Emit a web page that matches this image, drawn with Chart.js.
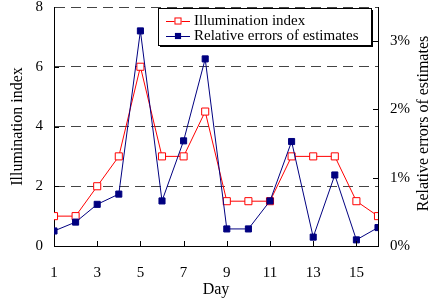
<!DOCTYPE html>
<html>
<head>
<meta charset="utf-8">
<script src="https://cdn.jsdelivr.net/npm/chart.js@4.4.1/dist/chart.umd.min.js"></script>
<style>
  html, body { margin: 0; padding: 0; background: #fff; }
  #wrap { width: 428px; height: 303px; }
</style>
</head>
<body>
<div id="wrap"><canvas id="chart" width="428" height="303"></canvas></div>
<script>
const days = [1, 2, 3, 4, 5, 6, 7, 8, 9, 10, 11, 12, 13, 14, 15, 16];
const illumination = [1, 1, 2, 3, 6, 3, 3, 4.5, 1.5, 1.5, 1.5, 3, 3, 3, 1.5, 1];
const relErrors = [0.22, 0.35, 0.61, 0.76, 3.15, 0.66, 1.54, 2.74, 0.25, 0.25, 0.66, 1.53, 0.13, 1.04, 0.09, 0.27];
const dayTicks = [1, 3, 5, 7, 9, 11, 13, 15];
const leftTicks = [0, 2, 4, 6, 8];
const rightTicks = [0, 1, 2, 3];

const serif = '"Liberation Serif", "Times New Roman", serif';
const red = '#ff0000';
const navy = '#000080';

// little inward tick marks, legend box and right-hand title
const decorations = {
    id: 'decorations',
    afterDraw(chart) {
        const ctx = chart.ctx;
        const area = chart.chartArea;
        const x = chart.scales.x, y = chart.scales.y, y2 = chart.scales.y2;
        ctx.save();
        ctx.strokeStyle = '#000';
        ctx.lineWidth = 1;
        ctx.beginPath();
        dayTicks.forEach(d => {
            const px = Math.round(x.getPixelForValue(d)) + 0.5;
            ctx.moveTo(px, area.bottom);
            ctx.lineTo(px, area.bottom - 5);
        });
        leftTicks.slice(1, -1).forEach(v => {
            const py = Math.round(y.getPixelForValue(v)) + 0.5;
            ctx.moveTo(area.left, py);
            ctx.lineTo(area.left + 5, py);
        });
        rightTicks.slice(1).forEach(v => {
            const py = Math.round(y2.getPixelForValue(v)) + 0.5;
            ctx.moveTo(area.right, py);
            ctx.lineTo(area.right - 5, py);
        });
        ctx.stroke();

        // legend
        const lx = 158, ly = 8, lw = 213, lh = 37;
        ctx.fillStyle = '#000';
        ctx.fillRect(lx + 2, ly + 2, lw, lh);
        ctx.fillStyle = '#fff';
        ctx.fillRect(lx, ly, lw, lh);
        ctx.strokeStyle = '#000';
        ctx.strokeRect(lx + 0.5, ly + 0.5, lw, lh);
        ctx.font = '15px ' + serif;
        ctx.textBaseline = 'middle';
        chart.data.datasets.forEach((ds, i) => {
            const ry = 21 + i * 15;
            ctx.strokeStyle = ds.borderColor;
            ctx.lineWidth = 1;
            ctx.beginPath();
            ctx.moveTo(166, ry + 0.5);
            ctx.lineTo(190, ry + 0.5);
            ctx.stroke();
            const s = ds.pointRadius * Math.SQRT1_2;
            ctx.fillStyle = ds.pointBackgroundColor;
            ctx.fillRect(178 - s, ry - s, 2 * s, 2 * s);
            ctx.strokeRect(178 - s + 0.5, ry - s + 0.5, 2 * s - 1, 2 * s - 1);
            ctx.fillStyle = '#000';
            ctx.fillText(ds.label, 194, ry);
        });

        // right axis title, reading bottom to top
        ctx.translate(424, (area.top + area.bottom) / 2 - 3);
        ctx.rotate(-Math.PI / 2);
        ctx.font = '16px ' + serif;
        ctx.textAlign = 'center';
        ctx.textBaseline = 'middle';
        ctx.fillStyle = '#000';
        ctx.fillText('Relative errors of estimates', 0, 0);
        ctx.restore();
    }
};

const noPad = scale => {
    scale.paddingTop = 0;
    scale.paddingBottom = 0;
};

new Chart(document.getElementById('chart'), {
    type: 'line',
    data: {
        datasets: [{
            label: 'Illumination index',
            data: days.map((d, i) => ({ x: d, y: illumination[i] })),
            yAxisID: 'y',
            borderColor: red,
            borderWidth: 1,
            pointStyle: 'rect',
            pointRadius: 5,
            pointBackgroundColor: '#fff',
            pointBorderColor: red,
            pointBorderWidth: 1,
            order: 1
        }, {
            label: 'Relative errors of estimates',
            data: days.map((d, i) => ({ x: d, y: relErrors[i] })),
            yAxisID: 'y2',
            borderColor: navy,
            borderWidth: 1,
            pointStyle: 'rect',
            pointRadius: 4.3,
            pointBackgroundColor: navy,
            pointBorderColor: navy,
            pointBorderWidth: 1,
            order: 0
        }]
    },
    options: {
        responsive: false,
        animation: false,
        devicePixelRatio: 1,
        layout: { padding: { top: 7, left: 0, right: 0, bottom: 0 } },
        plugins: {
            legend: { display: false },
            tooltip: { enabled: false }
        },
        scales: {
            x: {
                type: 'linear',
                min: 1,
                max: 16,
                afterBuildTicks: scale => { scale.ticks = dayTicks.map(v => ({ value: v })); },
                afterFit: scale => {
                    scale.height = 57;
                    scale.paddingLeft = 0;
                    scale.paddingRight = 0;
                },
                grid: { display: false, drawTicks: false },
                border: { display: true, color: '#000', width: 1 },
                ticks: {
                    padding: 18,
                    maxRotation: 0,
                    autoSkip: false,
                    color: '#000',
                    font: { family: serif, size: 15 }
                },
                title: {
                    display: true,
                    text: 'Day',
                    color: '#000',
                    font: { family: serif, size: 16 },
                    padding: { top: 0, bottom: 4 }
                }
            },
            y: {
                position: 'left',
                min: 0,
                max: 8,
                afterBuildTicks: scale => { scale.ticks = leftTicks.map(v => ({ value: v })); },
                afterFit: scale => { scale.width = 54; noPad(scale); },
                grid: {
                    drawTicks: false,
                    lineWidth: 1,
                    color: c => (c.tick && c.tick.value === 0) ? 'rgba(0,0,0,0)' : '#444'
                },
                border: { display: true, color: '#000', width: 1, dash: [10, 6] },
                ticks: {
                    padding: 11,
                    color: '#000',
                    font: { family: serif, size: 15 }
                },
                title: {
                    display: true,
                    text: 'Illumination index',
                    color: '#000',
                    font: { family: serif, size: 16 },
                    padding: { top: 8, bottom: 0 }
                }
            },
            y2: {
                position: 'right',
                min: 0,
                max: 3.5,
                afterBuildTicks: scale => { scale.ticks = rightTicks.map(v => ({ value: v })); },
                afterFit: scale => { scale.width = 50; noPad(scale); },
                grid: { display: false, drawTicks: false },
                border: { display: true, color: '#000', width: 1 },
                ticks: {
                    padding: 12,
                    color: '#000',
                    font: { family: serif, size: 15 },
                    callback: v => v + '%'
                }
            }
        }
    },
    plugins: [decorations]
});
</script>
</body>
</html>
